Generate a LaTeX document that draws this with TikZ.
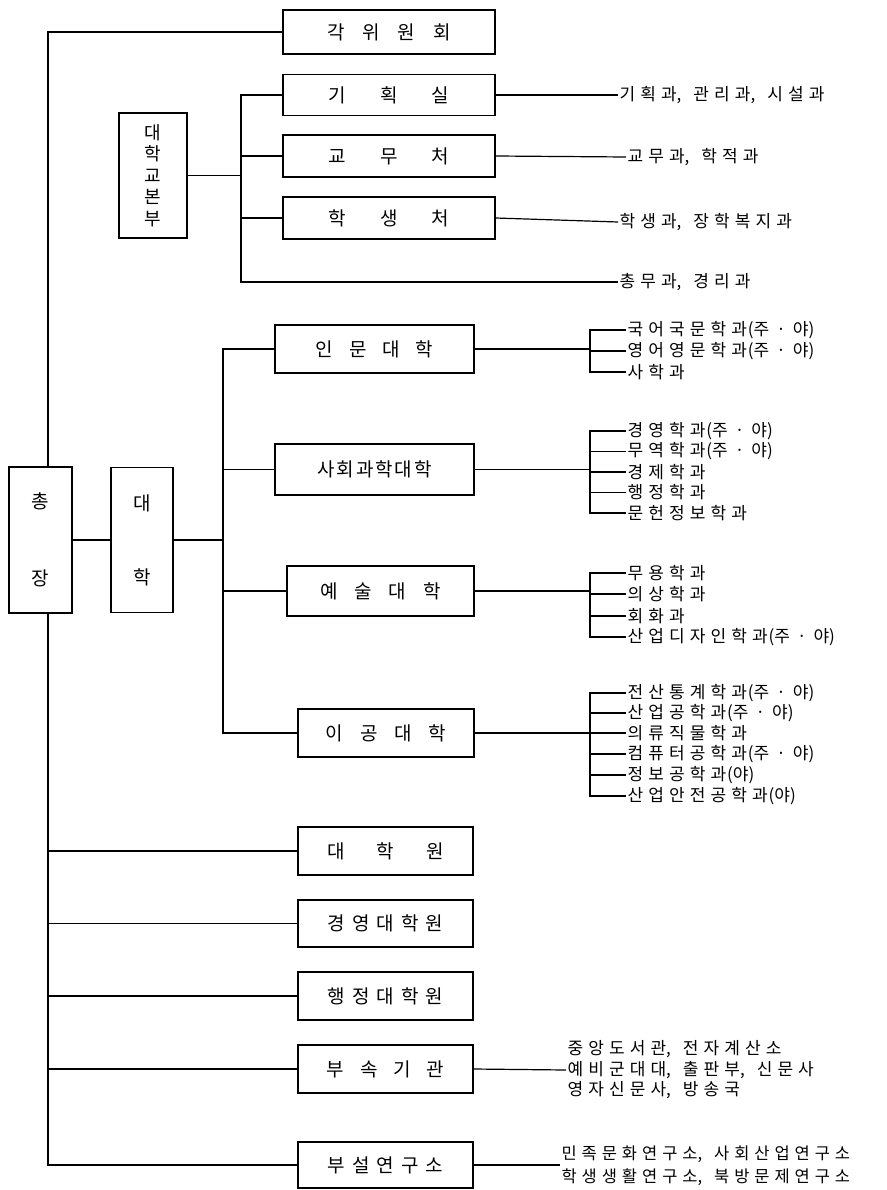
\documentclass[tikz,border=0pt]{standalone}
\usepackage{fontspec}
\setmainfont{Noto Sans CJK KR}
\newfontfamily\listfont{Noto Sans CJK KR}[LetterSpace=30]
\newfontfamily\plainfont{Noto Sans CJK KR}
\newcommand\sk[1]{\hspace{#1pt}}
\newcommand\jy{{\plainfont\sk{1}(주\sk{7}·\sk{7}야)}}
\newcommand\yo{{\plainfont\sk{1}(야)}}
\newcommand\cma{{\plainfont,}\sk{12}}
\begin{document}
\begin{tikzpicture}[x=1pt,y=-1pt,line width=1.2pt,
  box/.style={draw,line width=1.2pt,inner sep=0pt,font=\fontsize{19}{22}\selectfont},
  vbox/.style={box,align=center},
  item/.style={anchor=west,inner sep=1pt,font=\listfont\fontsize{17}{20.5}\selectfont},
  mitem/.style={item,align=left}]
\fill[white] (0,0) rectangle (886,1190);
\useasboundingbox (0,0) rectangle (886,1190);

% ---- main column
\node[vbox,minimum width=63pt,minimum height=146pt] (chongjang) at (40.5,540) {총\\[55pt]장};
\node[vbox,minimum width=62pt,minimum height=145pt] (daehak) at (142,540) {대\\[52pt]학};

% ---- top
\node[box,minimum width=212pt,minimum height=44pt] (gak) at (389,32) {각\sk{18}위\sk{18}원\sk{18}회};
\node[vbox,minimum width=68pt,minimum height=125pt,font=\fontsize{18}{21.5}\selectfont] (bonbu) at (153,175.5) {대\\학\\교\\본\\부};
\node[box,minimum width=212pt,minimum height=41pt] (gihoek) at (389,95) {기\sk{34}획\sk{34}실};
\node[box,minimum width=212pt,minimum height=42pt] (gyomu) at (389,156) {교\sk{34}무\sk{34}처};
\node[box,minimum width=212pt,minimum height=42pt] (haksaeng) at (389,218) {학\sk{34}생\sk{34}처};

\node[item] (gihoekL) at (618,95) {기획과\cma 관리과\cma 시설과};
\node[item] (gyomuL) at (626,157) {교무과\cma 학적과};
\node[item] (haksaengL) at (618,222) {학생과\cma 장학복지과};
\node[item] (chongmuL) at (618,282) {총무과\cma 경리과};

% ---- colleges
\node[box,minimum width=199pt,minimum height=48pt] (inmun) at (374.5,349) {인\sk{16}문\sk{16}대\sk{16}학};
\node[box,minimum width=199pt,minimum height=51pt] (sahoe) at (374.5,469.5) {사\sk{2}회\sk{2}과\sk{2}학\sk{2}대\sk{2}학};
\node[box,minimum width=187pt,minimum height=50pt] (yesul) at (380.5,591) {예\sk{17}술\sk{17}대\sk{17}학};
\node[box,minimum width=176pt,minimum height=48pt] (igong) at (386,733) {이\sk{17}공\sk{17}대\sk{17}학};

\node[item] (inmunA) at (626,330) {국어국문학과\jy};
\node[item] (inmunB) at (626,351) {영어영문학과\jy};
\node[item] (inmunC) at (626,372) {사학과};

\node[item] (sahoeA) at (626,431) {경영학과\jy};
\node[item] (sahoeB) at (626,451.5) {무역학과\jy};
\node[item] (sahoeC) at (626,472) {경제학과};
\node[item] (sahoeD) at (626,492.5) {행정학과};
\node[item] (sahoeE) at (626,513) {문헌정보학과};

\node[item] (yesulA) at (626,573) {무용학과};
\node[item] (yesulB) at (626,594) {의상학과};
\node[item] (yesulC) at (626,616) {회화과};
\node[item] (yesulD) at (626,637) {산업디자인학과\jy};

\node[item] (igongA) at (626,693) {전산통계학과\jy};
\node[item] (igongB) at (626,713) {산업공학과\jy};
\node[item] (igongC) at (626,733) {의류직물학과};
\node[item] (igongD) at (626,754) {컴퓨터공학과\jy};
\node[item] (igongE) at (626,775) {정보공학과\yo};
\node[item] (igongF) at (626,796) {산업안전공학과\yo};

% ---- graduate schools and others
\node[box,minimum width=175pt,minimum height=48pt] (daehagwon) at (385.5,851) {대\sk{32}학\sk{32}원};
\node[box,minimum width=175pt,minimum height=47pt] (gyeong) at (385.5,923.5) {경\sk{7}영\sk{7}대\sk{7}학\sk{7}원};
\node[box,minimum width=175pt,minimum height=48pt] (haengjeong) at (385.5,996) {행\sk{7}정\sk{7}대\sk{7}학\sk{7}원};
\node[box,minimum width=175pt,minimum height=48pt] (busok) at (385.5,1069) {부\sk{16}속\sk{16}기\sk{16}관};
\node[box,minimum width=175pt,minimum height=46pt] (buseol) at (385.5,1165) {부\sk{7}설\sk{7}연\sk{7}구\sk{7}소};

\node[mitem] (busokL) at (566,1070) {중앙도서관\cma 전자계산소\\예비군대대\cma 출판부\cma 신문사\\영자신문사\cma 방송국};
\node[mitem,font=\listfont\fontsize{16.5}{23}\selectfont] (buseolL) at (560,1166) {민족문화연구소\cma 사회산업연구소\\학생생활연구소\cma 북방문제연구소};

% ---- connectors
\coordinate (tr) at (48,0);
\coordinate (bv) at (241,0);
\coordinate (cv) at (223,0);
\coordinate (bk) at (590,0);

\draw (gak.west) -| (tr |- chongjang.north);
\draw (tr |- chongjang.south) |- (buseol.west);
\foreach \n in {daehagwon,gyeong,haengjeong,busok}
  \draw (tr |- \n.west) -- (\n.west);
\draw (chongjang.east) -- (daehak.west);

\draw (bonbu.east) -- (bv |- bonbu.east);
\draw (gihoek.west) -| (bv |- chongmuL.west) -- (chongmuL.west);
\draw (bv |- gyomu.west) -- (gyomu.west);
\draw (bv |- haksaeng.west) -- (haksaeng.west);
\draw (gihoek.east) -- (gihoekL.west);
\draw (gyomu.east) -- (gyomuL.west);
\draw (haksaeng.east) -- (haksaengL.west);

\draw (daehak.east) -- (cv |- daehak.east);
\draw (inmun.west) -| (cv |- igong.west) -- (igong.west);
\draw (cv |- sahoe.west) -- (sahoe.west);
\draw (cv |- yesul.west) -- (yesul.west);

\draw (inmun.east) -- (bk |- inmun.east);
\draw (inmunA.west) -- (bk |- inmunA.west) -- (bk |- inmunC.west) -- (inmunC.west);
\draw (bk |- inmunB.west) -- (inmunB.west);

\draw (sahoe.east) -- (bk |- sahoe.east);
\draw (sahoeA.west) -- (bk |- sahoeA.west) -- (bk |- sahoeE.west) -- (sahoeE.west);
\foreach \r in {sahoeB,sahoeC,sahoeD} \draw (bk |- \r.west) -- (\r.west);

\draw (yesul.east) -- (bk |- yesul.east);
\draw (yesulA.west) -- (bk |- yesulA.west) -- (bk |- yesulD.west) -- (yesulD.west);
\foreach \r in {yesulB,yesulC} \draw (bk |- \r.west) -- (\r.west);

\draw (igong.east) -- (bk |- igong.east);
\draw (igongA.west) -- (bk |- igongA.west) -- (bk |- igongF.west) -- (igongF.west);
\foreach \r in {igongB,igongC,igongD,igongE} \draw (bk |- \r.west) -- (\r.west);

\draw (busok.east) -- (busokL.west);
\draw (buseol.east) -- (buseol.east -| buseolL.west);
\end{tikzpicture}
\end{document}
